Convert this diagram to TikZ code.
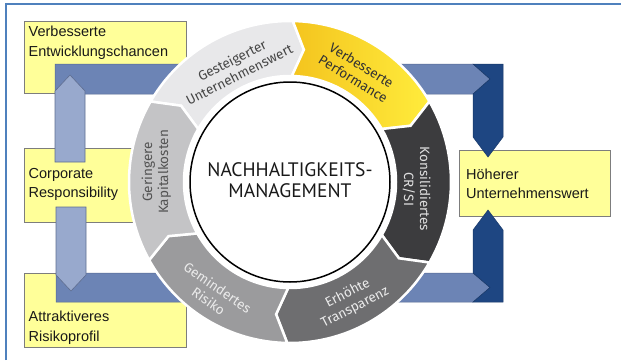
\documentclass[tikz,border=0pt]{standalone}
\usepackage{fontspec}
\setmainfont{Liberation Sans}
\newfontfamily\ringfont{Fira Sans}
\newfontfamily\ctrfont{PT Sans}
\usetikzlibrary{calc}
\definecolor{boxfill}{RGB}{255,255,153}
\definecolor{boxline}{RGB}{125,125,125}
\definecolor{bandblue}{RGB}{108,132,181}
\definecolor{paleblue}{RGB}{152,169,205}
\definecolor{paleline}{RGB}{95,110,145}
\definecolor{darkblue}{RGB}{30,70,130}
\definecolor{framecol}{RGB}{79,129,189}
\definecolor{segA}{RGB}{232,232,234}
\definecolor{segBl}{RGB}{244,196,30}
\definecolor{segBr}{RGB}{255,236,60}
\definecolor{segC}{RGB}{60,60,62}
\definecolor{segD}{RGB}{110,110,112}
\definecolor{segE}{RGB}{155,155,157}
\definecolor{segF}{RGB}{196,196,198}
\def\Ro{161}
\def\Rm{133}
\def\Ri{106}
\newcommand\RingSeg[3]{%
  \path[#1] (#2:\Ro) arc[start angle=#2, end angle=#3, radius=\Ro]
    -- ({#3-5}:\Rm) -- (#3:\Ri) arc[start angle=#3, end angle=#2, radius=\Ri]
    -- ({#2-5}:\Rm) -- cycle;}
\tikzset{
  ybox/.style={fill=boxfill, draw=boxline, line width=0.8},
  boxtext/.style={anchor=base west, inner sep=0, font=\fontsize{14.5}{20}\selectfont, text=black!90},
  band/.style={fill=bandblue, draw=bandblue!80!black, line width=0.5},
  palearrow/.style={fill=paleblue, draw=paleline, line width=0.6},
  darkpiece/.style={fill=darkblue, draw=darkblue!80!black, line width=0.5},
  seg/.style={draw=white, line width=2.5},
  ringtext/.style={align=center, inner sep=0, font=\ringfont\fontsize{13.5}{16}\selectfont},
}
\begin{document}
\begin{tikzpicture}[x=1pt,y=1pt]
\useasboundingbox (0,0) rectangle (621,360);
% frame
\draw[framecol, line width=1.5] (6,0) -- (6,356) -- (621,356);
% boxes
\draw[ybox] (24,267) rectangle (186,339);
\draw[ybox] (24,138) rectangle (170,212);
\draw[ybox] (24,13) rectangle (186,87);
\draw[ybox] (459,144) rectangle (610,210);
% bands
\draw[band] (55,296) -- (473,296) -- (490,281) -- (473,266) -- (55,266) -- cycle;
\draw[band] (56,87) -- (473,87) -- (490,72.5) -- (473,58) -- (56,58) -- cycle;
\draw[darkpiece] (473,296) -- (503,296) -- (503,223) -- (488,203) -- (473,223) -- (473,266) -- (490,281) -- cycle;
\draw[darkpiece] (473,58) -- (503,58) -- (503,130) -- (488,150) -- (473,130) -- (473,87) -- (490,72.5) -- cycle;
% pale arrows
\draw[palearrow] (55,198) -- (55,269) -- (70,285) -- (85,269) -- (85,198) -- cycle;
\draw[palearrow] (56,153) -- (56,85) -- (71,69) -- (86,85) -- (86,153) -- cycle;
% box texts
\node[boxtext] (t1a) at (28.5,324) {Verbesserte};
\node[boxtext] (t1b) at (28.5,304) {Entwicklungschancen};
\node[boxtext] (t2a) at (28.5,181.5) {Corporate};
\node[boxtext] (t2b) at (28.5,162.5) {Responsibility};
\node[boxtext] (t3a) at (28.5,39) {Attraktiveres};
\node[boxtext] (t3b) at (28.5,19) {Risikoprofil};
\node[boxtext] (t4a) at (466,181) {Höherer};
\node[boxtext] (t4b) at (466,162) {Unternehmenswert};
% ring
\begin{scope}[shift={(290,178)}]
  \fill[white] (0,0) circle (\Ri);
  \RingSeg{seg, fill=segA}{150}{89}
  \RingSeg{seg, left color=segBl, right color=segBr}{89}{30}
  \RingSeg{seg, fill=segC}{30}{-30}
  \RingSeg{seg, fill=segD}{-30}{-91}
  \RingSeg{seg, fill=segE}{-91}{-151}
  \RingSeg{seg, fill=segF}{209}{150}
  \draw[black, line width=1.5, fill=white] (0,0) circle (100);
  \node[ringtext, text=black!72, rotate=27] (rA) at (115.4:127) {Gesteigerter\\Unternehmenswert};
  \node[ringtext, text=black!80, rotate=-31.5] (rB) at (58.5:129) {Verbesserte\\Performance};
  \node[ringtext, text=black!12, rotate=-90] (rC) at (-3.2:127) {Konsilidiertes\\CR/SI};
  \node[ringtext, text=black!8, rotate=27.4] (rD) at (-62.6:133.5) {Erhöhte\\Transparenz};
  \node[ringtext, text=black!8, rotate=-34.4] (rE) at (235.6:136) {Gemindertes\\Risiko};
  \node[ringtext, text=black!68, rotate=90] (rF) at (175.7:134) {Geringere\\Kapitalkosten};
  \node[align=center, inner sep=0, font=\ctrfont\fontsize{19.5}{21}\selectfont, text=black!90] (ctr) at (0,2) {NACHHALTIGKEITS-\\MANAGEMENT};
\end{scope}
\end{tikzpicture}
\end{document}
